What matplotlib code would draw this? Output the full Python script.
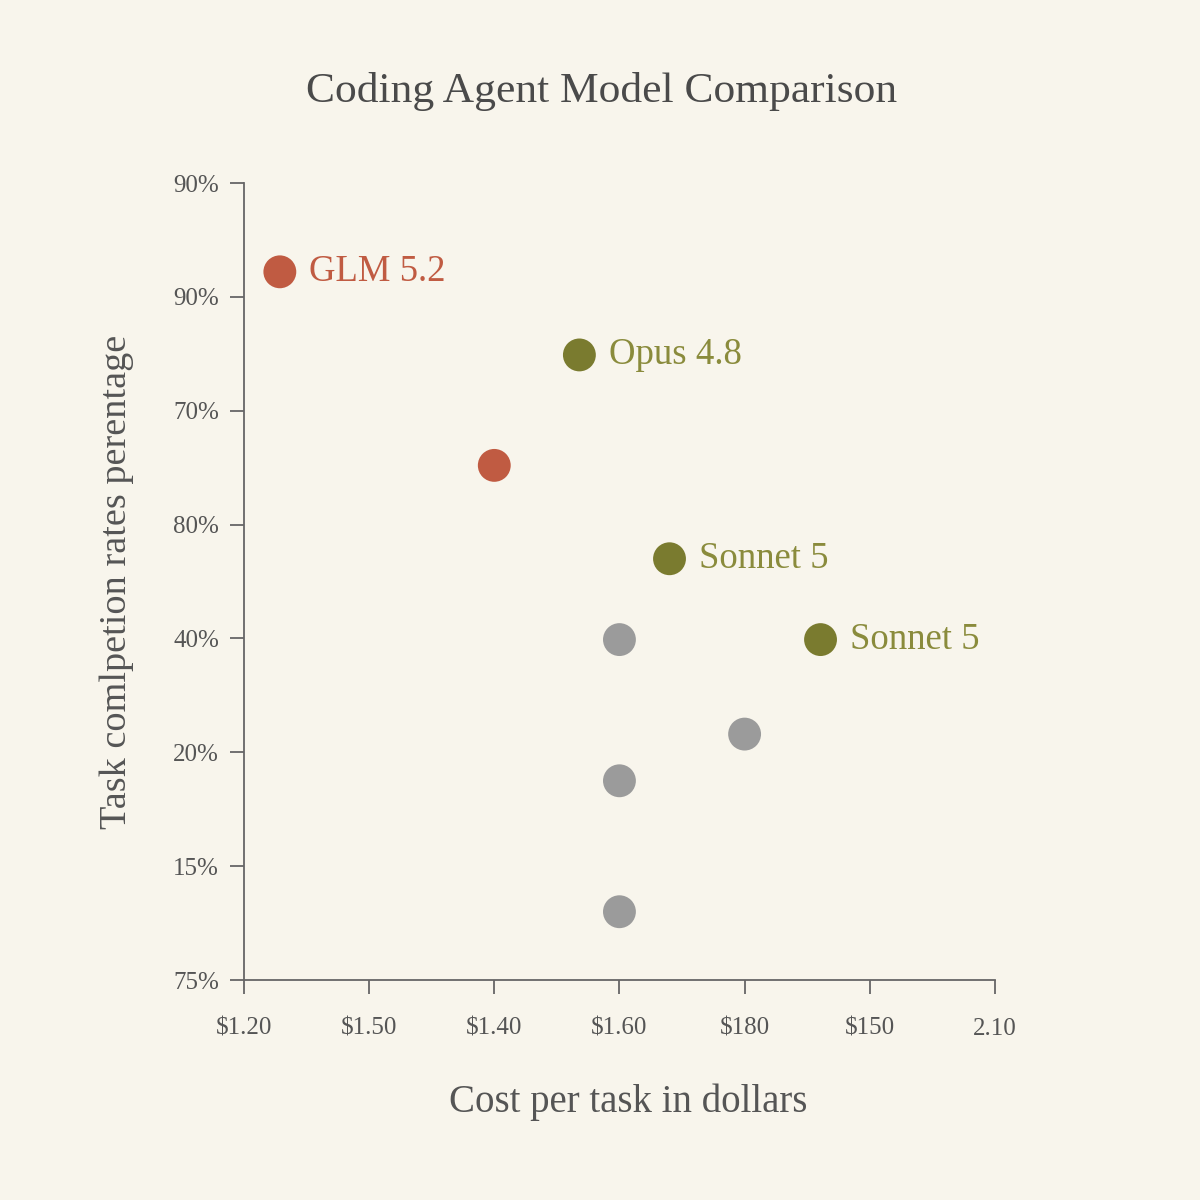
import matplotlib
matplotlib.use("Agg")
import matplotlib.pyplot as plt

plt.rcParams['font.family'] = ['Liberation Serif', 'DejaVu Serif']

# data
x_ticks = [1.20, 1.35, 1.50, 1.65, 1.80, 1.95, 2.10]
x_labels = ['$1.20', '$1.50', '$1.40', '$1.60', '$180', '$150', '2.10']
y_ticks = [0, 1, 2, 3, 4, 5, 6, 7]
y_labels = ['75%', '15%', '20%', '40%', '80%', '70%', '90%', '90%']

names = ['GLM 5.2', '', 'Opus 4.8', 'Sonnet 5', 'Sonnet 5', '', '', '', '']
cost = [1.243, 1.50, 1.602, 1.71, 1.891, 1.65, 1.80, 1.65, 1.65]
rate = [6.22, 4.52, 5.49, 3.70, 2.99, 2.99, 2.16, 1.75, 0.60]
group = ['zai', 'zai', 'anth', 'anth', 'anth', 'other', 'other', 'other', 'other']

dot_col = {'zai': '#C05B42', 'anth': '#7A7B2F', 'other': '#9B9B9B'}
txt_col = {'zai': '#C05B42', 'anth': '#8A8B3C', 'other': '#9B9B9B'}

bg = '#F8F5EC'
ink = '#555555'

fig = plt.figure(figsize=(12, 12), dpi=100, facecolor=bg)
ax = fig.add_axes([0.2033, 0.1833, 0.6258, 0.6642], facecolor=bg)

ax.scatter(cost, rate, s=560, c=[dot_col[g] for g in group], zorder=3, linewidths=0)
for n, xv, yv, g in zip(names, cost, rate, group):
    if n:
        ax.annotate(n, (xv, yv), xytext=(21, 0), textcoords='offset points',
                    va='center', ha='left', fontsize=26.5, color=txt_col[g])

ax.set_xlim(1.20, 2.10)
ax.set_ylim(0, 7)
ax.set_xticks(x_ticks)
ax.set_xticklabels(x_labels)
ax.set_yticks(y_ticks)
ax.set_yticklabels(y_labels)

for s in ['top', 'right']:
    ax.spines[s].set_visible(False)
for s in ['left', 'bottom']:
    ax.spines[s].set_color('#666666')
    ax.spines[s].set_linewidth(1.3)
ax.tick_params(axis='both', colors='#666666', labelcolor=ink, labelsize=18,
               length=10, width=1.3)
ax.tick_params(axis='x', pad=17)
ax.tick_params(axis='y', pad=8)

ax.set_xlabel('Cost per task in dollars', fontsize=28, color=ink)
ax.xaxis.set_label_coords(0.512, -0.1295)
ax.set_ylabel('Task comlpetion rates perentage', fontsize=27.5, color=ink, labelpad=28)
fig.text(0.501, 0.924, 'Coding Agent Model Comparison', ha='center', va='center',
         fontsize=31.3, color='#4a4a4a')

fig.savefig('out.png', dpi=100, facecolor=bg)
